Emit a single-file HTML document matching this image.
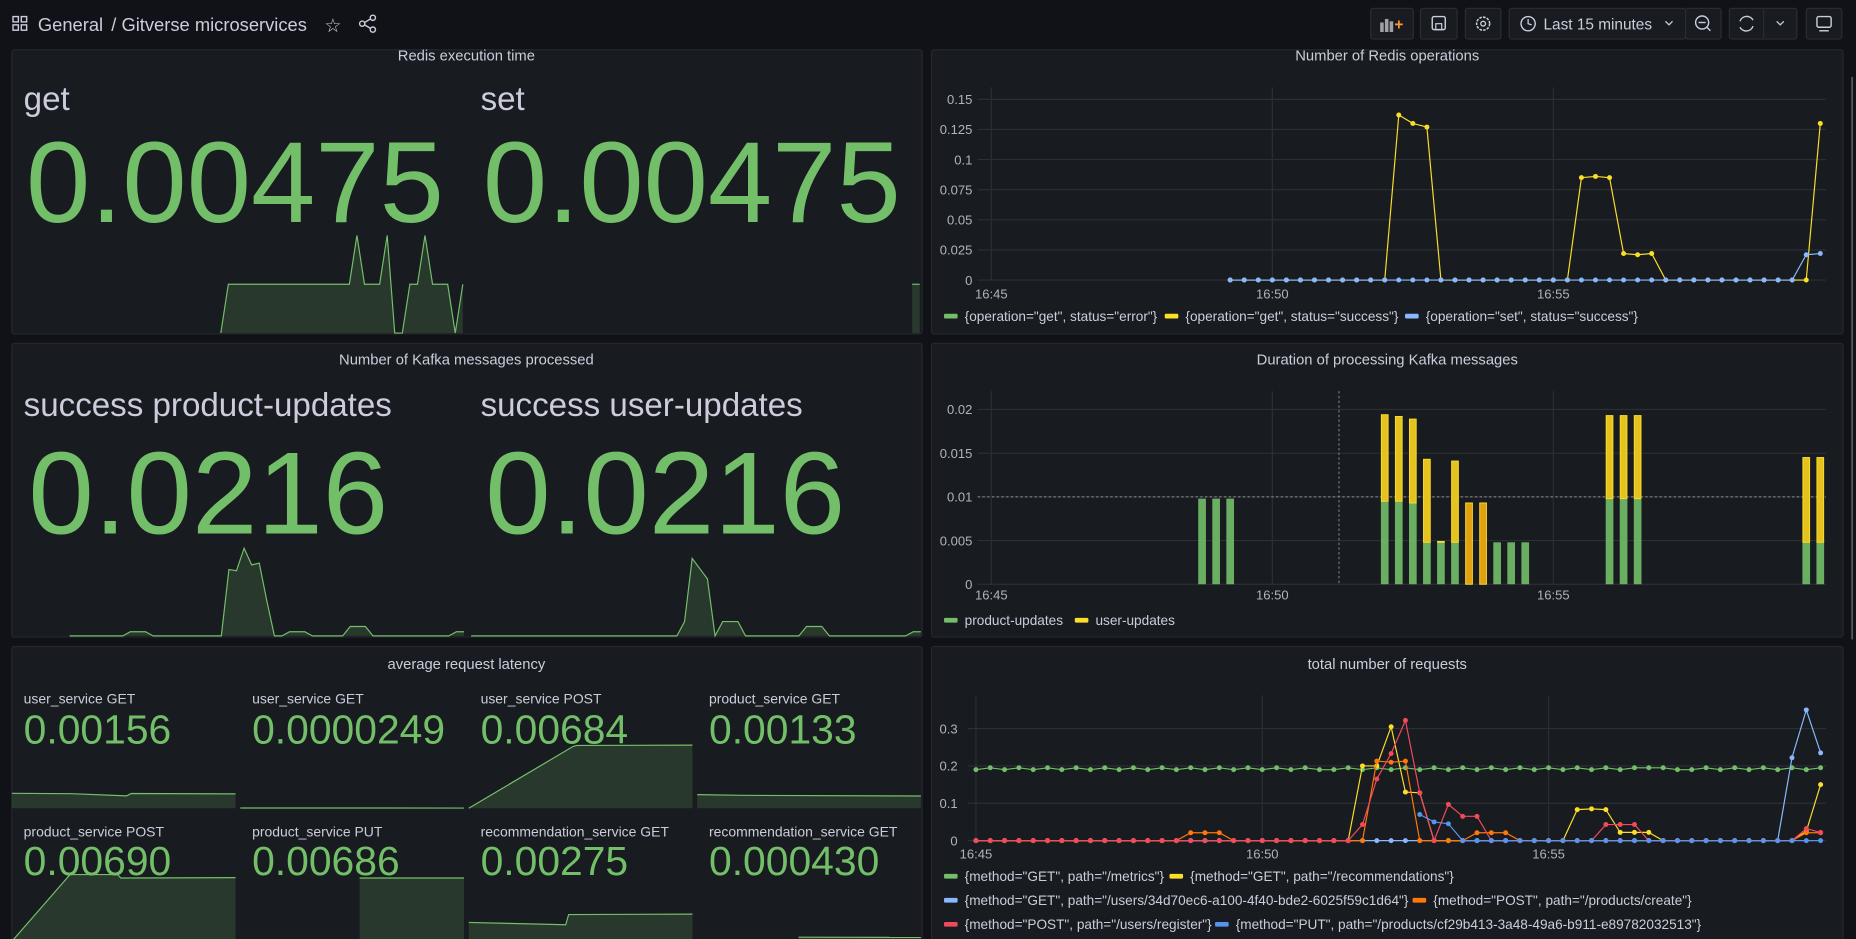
<!DOCTYPE html>
<html><head><meta charset="utf-8"><title>Gitverse microservices</title>
<style>
html,body{margin:0;padding:0;background:#111217;overflow:hidden;}
svg{display:block;font-family:"Liberation Sans",sans-serif;}
.t{fill:#ccccdc;}
.tick{fill:#ccccdc;font-size:11px;opacity:.85}
.ptitle{fill:#ccccdc;font-size:12.5px;text-anchor:middle}
.big{fill:#73bf69}
.leg{fill:#ccccdc;font-size:11.5px}
</style></head>
<body>
<svg id="root" width="1856" height="939" viewBox="0 0 1568 793" preserveAspectRatio="none">
<rect x="0" y="0" width="1568" height="793" fill="#111217"/>
<!-- top bar -->
<g>
  <g fill="none" stroke="#ccccdc" stroke-width="1.2">
    <rect x="11" y="14" width="4.5" height="4.5"/><rect x="18" y="14" width="4.5" height="4.5"/>
    <rect x="11" y="21" width="4.5" height="4.5"/><rect x="18" y="21" width="4.5" height="4.5"/>
  </g>
  <text x="32" y="26" class="t" font-size="15.5">General</text>
  <text x="94" y="26" class="t" font-size="15.5">/ Gitverse microservices</text>
  <text x="274" y="27" class="t" font-size="16">☆</text>
  <g fill="none" stroke="#ccccdc" stroke-width="1.2">
    <circle cx="315" cy="15" r="2.2"/><circle cx="306" cy="20" r="2.2"/><circle cx="315" cy="25" r="2.2"/>
    <line x1="308" y1="19" x2="313" y2="16"/><line x1="308" y1="21" x2="313" y2="24"/>
  </g>
  <g>
    <rect x="1158" y="7" width="36" height="26" rx="2" fill="#181b1f" stroke="#2a2d33"/>
    <rect x="1166" y="19" width="3" height="8" fill="#9fa0a8"/><rect x="1170" y="16" width="3" height="11" fill="#9fa0a8"/><rect x="1174" y="18" width="3" height="9" fill="#9fa0a8"/>
    <text x="1178" y="25" fill="#ff9830" font-size="13" font-weight="bold">+</text>
  </g>
  <g>
    <rect x="1200" y="7" width="31" height="26" rx="2" fill="#181b1f" stroke="#2a2d33"/>
    <rect x="1210" y="14" width="11" height="11" rx="1.5" fill="none" stroke="#ccccdc" stroke-width="1.2"/>
    <rect x="1213" y="20" width="5" height="5" fill="none" stroke="#ccccdc" stroke-width="1"/>
  </g>
  <g>
    <rect x="1238" y="7" width="30" height="26" rx="2" fill="#181b1f" stroke="#2a2d33"/>
    <circle cx="1253" cy="20" r="5.5" fill="none" stroke="#ccccdc" stroke-width="1.3" stroke-dasharray="2.2 1"/>
    <circle cx="1253" cy="20" r="2" fill="none" stroke="#ccccdc" stroke-width="1.1"/>
  </g>
  <g>
    <rect x="1275" y="7" width="149" height="26" rx="2" fill="#181b1f" stroke="#2a2d33"/>
    <circle cx="1291" cy="20" r="6" fill="none" stroke="#ccccdc" stroke-width="1.2"/>
    <polyline points="1291,16 1291,20 1294,21" fill="none" stroke="#ccccdc" stroke-width="1.1"/>
    <text x="1304" y="25" class="t" font-size="13">Last 15 minutes</text>
    <polyline points="1407,18 1410,21 1413,18" fill="none" stroke="#ccccdc" stroke-width="1.1"/>
  </g>
  <g>
    <rect x="1424" y="7" width="30" height="26" rx="2" fill="#181b1f" stroke="#2a2d33"/>
    <circle cx="1438" cy="19" r="5.5" fill="none" stroke="#ccccdc" stroke-width="1.2"/>
    <line x1="1435" y1="19" x2="1441" y2="19" stroke="#ccccdc" stroke-width="1.2"/>
    <line x1="1442" y1="23" x2="1445" y2="26" stroke="#ccccdc" stroke-width="1.2"/>
  </g>
  <g>
    <rect x="1461" y="7" width="57" height="26" rx="2" fill="#181b1f" stroke="#2a2d33"/>
    <line x1="1490" y1="8" x2="1490" y2="32" stroke="#2a2d33"/>
    <path d="M1470 18 A6 6 0 0 1 1481 17 M1481 22 A6 6 0 0 1 1470 23" fill="none" stroke="#ccccdc" stroke-width="1.2"/>
    <polyline points="1501,18 1504,21 1507,18" fill="none" stroke="#ccccdc" stroke-width="1.1"/>
  </g>
  <g>
    <rect x="1526" y="7" width="30" height="26" rx="2" fill="#181b1f" stroke="#2a2d33"/>
    <rect x="1535" y="14" width="12" height="9" rx="1.5" fill="none" stroke="#ccccdc" stroke-width="1.2"/>
    <line x1="1537" y1="26" x2="1545" y2="26" stroke="#ccccdc" stroke-width="1.2"/>
  </g>
</g>
<rect x="1564" y="65" width="1.5" height="475" fill="#55575e"/>

<!-- panels -->
<g>
  <rect x="10" y="42" width="769" height="240" rx="2" fill="#181b1f" stroke="#25272d"/>
  <text x="394" y="51" class="ptitle">Redis execution time</text>
  <text x="20" y="93" class="t" font-size="28">get</text>
  <text x="406" y="93" class="t" font-size="28">set</text>
  <text x="22" y="187.5" class="big" font-size="97" textLength="353" lengthAdjust="spacingAndGlyphs">0.00475</text>
  <text x="408" y="187.5" class="big" font-size="97" textLength="353" lengthAdjust="spacingAndGlyphs">0.00475</text>
  <g id="sparkRedis"></g>
</g>
<g>
  <rect x="10" y="290" width="769" height="248" rx="2" fill="#181b1f" stroke="#25272d"/>
  <text x="394" y="308" class="ptitle">Number of Kafka messages processed</text>
  <text x="20" y="351.5" class="t" font-size="28">success product-updates</text>
  <text x="406" y="351.5" class="t" font-size="28">success user-updates</text>
  <text x="24" y="450.5" class="big" font-size="99" textLength="304" lengthAdjust="spacingAndGlyphs">0.0216</text>
  <text x="410" y="450.5" class="big" font-size="99" textLength="304" lengthAdjust="spacingAndGlyphs">0.0216</text>
  <g id="sparkKafka"></g>
</g>
<g>
  <rect x="10" y="546" width="769" height="260" rx="2" fill="#181b1f" stroke="#25272d"/>
  <text x="394" y="565" class="ptitle">average request latency</text>
  <g id="latency"></g>
</g>
<g>
  <rect x="787" y="42" width="770" height="240" rx="2" fill="#181b1f" stroke="#25272d"/>
  <text x="1172" y="51" class="ptitle">Number of Redis operations</text>
  <g id="redisChart"></g>
</g>
<g>
  <rect x="787" y="290" width="770" height="248" rx="2" fill="#181b1f" stroke="#25272d"/>
  <text x="1172" y="308" class="ptitle">Duration of processing Kafka messages</text>
  <g id="kafkaChart"></g>
</g>
<g>
  <rect x="787" y="546" width="770" height="260" rx="2" fill="#181b1f" stroke="#25272d"/>
  <text x="1172" y="565" class="ptitle">total number of requests</text>
  <g id="reqChart"></g>
</g>
</svg>
<script>
const NS='http://www.w3.org/2000/svg';
function mk(parent,tag,attrs){const e=document.createElementNS(NS,tag);for(const k in attrs)e.setAttribute(k,attrs[k]);parent.appendChild(e);return e;}
const GREEN='#73bf69',YELLOW='#fade2a',LBLUE='#8ab8ff',ORANGE='#ff780a',RED='#f2495c',BLUE='#5794f2';

/* ---------- shared time axis ---------- */
const timeTickLabels=['16:45','16:50','16:55'];
const timeTickMinutes=[0,5,10];

/* ---------- Redis operations data (15s step from 16:49:15) ---------- */
const redisStartMin=4.25, redisStepMin=0.25;
const redisGetError=[];
const redisGetSuccess=[0,0,0,0,0,0,0,0,0,0,0,0,0.137,0.13,0.127,0,0,0,0,0,0,0,0,0,0,0.085,0.086,0.085,0.022,0.021,0.022,0,0,0,0,0,0,0,0,0,0,0,0.13];
const redisSetSuccess=[0,0,0,0,0,0,0,0,0,0,0,0,0,0,0,0,0,0,0,0,0,0,0,0,0,0,0,0,0,0,0,0,0,0,0,0,0,0,0,0,0,0.021,0.022];
const redisYTicks=[0,0.025,0.05,0.075,0.1,0.125,0.15];
const redisYLabels=['0','0.025','0.05','0.075','0.1','0.125','0.15'];

/* ---------- Kafka duration data ---------- */
const kafkaTimes=[3.75,4,4.25,7,7.25,7.5,7.75,8,8.25,8.5,8.75,9,9.25,9.5,11,11.25,11.5,14.5,14.75];
const kafkaProduct=[0.0098,0.0098,0.0098,0.0095,0.0095,0.0093,0.0048,0.0048,0.0048,0,0,0.0048,0.0048,0.0048,0.0098,0.0098,0.0098,0.0048,0.0048];
const kafkaUser=[0,0,0,0.0099,0.0097,0.0096,0.0095,0.0001,0.0093,0.0093,0.0093,0,0,0,0.0095,0.0095,0.0095,0.0097,0.0097];
const kafkaYTicks=[0,0.005,0.01,0.015,0.02];
const kafkaYLabels=['0','0.005','0.01','0.015','0.02'];

/* ---------- total requests data (15s step from 16:45) ---------- */
const reqStepMin=0.25;
const reqMetrics=[0.19,0.195,0.19,0.195,0.19,0.195,0.19,0.195,0.19,0.195,0.19,0.195,0.19,0.195,0.19,0.195,0.19,0.195,0.19,0.195,0.19,0.195,0.19,0.195,0.19,0.19,0.195,0.19,0.195,0.19,0.195,0.19,0.195,0.19,0.195,0.19,0.195,0.19,0.195,0.19,0.195,0.19,0.195,0.19,0.195,0.19,0.195,0.195,0.195,0.19,0.19,0.195,0.19,0.195,0.19,0.195,0.19,0.195,0.19,0.195];
const reqRecommendations=[0,0,0,0,0,0,0,0,0,0,0,0,0,0,0,0,0,0,0,0,0,0,0,0,0,0,0,0.2,0.2,0.305,0.13,0.128,0,0,0,0,0,0,0,0,0,0,0.083,0.085,0.083,0.022,0.022,0.022,0,0,0,0,0,0,0,0,0,0,0.025,0.15];
const reqUsersGet=[0,0,0,0,0,0,0,0,0,0,0,0,0,0,0,0,0,0,0,0,0,0,0,0,0,0,0,0,0,0,0,0,0,0,0,0,0,0,0,0,0,0,0,0,0,0,0,0,0,0,0,0,0,0,0,0,0,0.222,0.35,0.235];
const reqProductsCreate=[0,0,0,0,0,0,0,0,0,0,0,0,0,0,0,0.021,0.021,0.021,0,0,0,0,0,0,0,0,0,0,0.213,0.21,0.213,0,0,0,0,0.021,0.021,0.021,0,0,0,0,0,0,0,0,0,0,0,0,0,0,0,0,0,0,0,0,0.021,0.021];
const reqUsersRegister=[0,0,0,0,0,0,0,0,0,0,0,0,0,0,0,0,0,0,0,0,0,0,0,0,0,0,0,0.043,0.165,0.233,0.322,0.128,0,0.097,0.065,0.065,0,0,0,0,0,0,0,0,0.043,0.043,0.043,0,0,0,0,0,0,0,0,0,0,0,0.032,0.022];
const reqProductsPut=[null,null,null,null,null,null,null,null,null,null,null,null,null,null,null,null,null,null,null,null,null,null,null,null,null,null,null,null,null,null,null,0.07,0.05,0.045,0,0,0,0,0,0,0,0,0,0,0,0,0,0,0,0,0,0,0,0,0,0,0,0,0,0];
const reqYTicks=[0,0.1,0.2,0.3];
const reqYLabels=['0','0.1','0.2','0.3'];

/* ---------- stat sparklines (60 points, 15s step) ---------- */
const sparkRedisGet=[null,null,null,null,null,null,null,null,null,null,null,null,null,null,null,null,null,null,null,null,null,null,null,null,null,null,null,0,0.00475,0.00475,0.00475,0.00475,0.00475,0.00475,0.00475,0.00475,0.00475,0.00475,0.00475,0.00475,0.00475,0.00475,0.00475,0.00475,0.00475,0.0095,0.00475,0.00475,0.00475,0.0095,0,0,0.00475,0.00475,0.0095,0.00475,0.00475,0.00475,0,0.00475];
const sparkRedisSet=[null,null,null,null,null,null,null,null,null,null,null,null,null,null,null,null,null,null,null,null,null,null,null,null,null,null,null,null,null,null,null,null,null,null,null,null,null,null,null,null,null,null,null,null,null,null,null,null,null,null,null,null,null,null,null,null,null,null,0.00475,0.00475];
const sparkKafkaProduct=[null,null,null,null,null,null,null,0,0,0,0,0,0,0,0,0.0014,0.0014,0.0014,0,0,0,0,0,0,0,0,0,0,0.0227,0.0223,0.03,0.0243,0.0249,0.012,0,0,0.0014,0.0014,0.0014,0,0,0,0,0,0.0032,0.0032,0.0032,0,0,0,0,0,0,0,0,0,0,0,0.0014,0.0014];
const sparkKafkaUser=[0,0,0,0,0,0,0,0,0,0,0,0,0,0,0,0,0,0,0,0,0,0,0,0,0,0,0,0,0.0049,0.0265,0.023,0.0195,0,0.0049,0.0049,0.0049,0,0,0,0,0,0,0,0,0.0032,0.0032,0.0032,0,0,0,0,0,0,0,0,0,0,0,0.0014,0.0014];

/* ---------- latency stats ---------- */
const latLabels=['user_service GET','user_service GET','user_service POST','product_service GET','product_service POST','product_service PUT','recommendation_service GET','recommendation_service GET'];
const latValues=['0.00156','0.0000249','0.00684','0.00133','0.00690','0.00686','0.00275','0.000430'];
const latSparkTimes=[[0,4,7.7,8,15],[0,15],[0,7,7.25,15],[0,3,15],[0,3.9,7.1,7.3,15],[8,15],[0,6.5,6.7,15],[6.8,15]];
const latSparkValues=[[0.00162,0.00158,0.00134,0.0016,0.00156],[0.00003,0.0000249],[0,0.0067,0.0068,0.00684],[0.00148,0.0014,0.00133],[0,0.00723,0.00723,0.00686,0.0069],[0.00686,0.00686],[0.00205,0.0018,0.0029,0.00295],[0.00045,0.00043]];

/* ---------- helpers ---------- */
function sparkIdx(g,vals,x0,x1,base,scale,name){
  const step=(x1-x0)/(vals.length-1);let pts=[];
  vals.forEach((v,i)=>{if(v!==null)pts.push([x0+i*step,base-v*scale]);});
  if(!pts.length)return;
  const area=mk(g,'polygon',{points:[[pts[0][0],base]].concat(pts,[[pts[pts.length-1][0],base]]).map(p=>p.join(',')).join(' '),fill:'rgba(115,191,105,0.18)'});
  
  
  const ln=mk(g,'polyline',{points:pts.map(p=>p.join(',')).join(' '),fill:'none',stroke:GREEN,'stroke-width':1});
  
  
}
function sparkTime(g,times,vals,x0,w,base,scale,name){
  const pts=times.map((t,i)=>[x0+t/15*w,base-vals[i]*scale]);
  const area=mk(g,'polygon',{points:[[pts[0][0],base]].concat(pts,[[pts[pts.length-1][0],base]]).map(p=>p.join(',')).join(' '),fill:'rgba(115,191,105,0.18)'});
  
  
  const ln=mk(g,'polyline',{points:pts.map(p=>p.join(',')).join(' '),fill:'none',stroke:GREEN,'stroke-width':1});
  
  
}
function axes(g,xf,yf,yTicks,yLabels,gx0,gx1,gTop,labX,timeY){
  yTicks.forEach((v,i)=>{
    const l=mk(g,'line',{x1:gx0,x2:gx1,y1:yf(v),y2:yf(v),stroke:'#2c2f35','stroke-width':1});
    
    
    const t=mk(g,'text',{x:labX,y:yf(v)+4,'text-anchor':'end',class:'tick'});t.textContent=yLabels[i];
    
    
  });
  timeTickMinutes.forEach((m,i)=>{
    const l=mk(g,'line',{x1:xf(m),x2:xf(m),y1:gTop,y2:yf(0),stroke:'#2c2f35','stroke-width':1});
    
    
    const t=mk(g,'text',{x:xf(m),y:timeY,'text-anchor':'middle',class:'tick'});t.textContent=timeTickLabels[i];
    
    
  });
}
function series(g,vals,t0,step,xf,yf,color,name){
  let d='',pen=false;
  vals.forEach((v,i)=>{if(v===null){pen=false;return;}d+=(pen?'L':'M')+xf(t0+i*step)+' '+yf(v);pen=true;});
  const p=mk(g,'path',{d:d,fill:'none',stroke:color,'stroke-width':1});
  
  
  vals.forEach((v,i)=>{if(v===null)return;
    const c=mk(g,'circle',{cx:xf(t0+i*step),cy:yf(v),r:2.1,fill:color});
    
    
  });
}
function legend(g,x,y,color,label,name){
  const r=mk(g,'rect',{x:x,y:y-2,width:11.5,height:4,rx:1,fill:color});
  
  
  const t=mk(g,'text',{x:x+17.5,y:y+4,class:'leg'});t.textContent=label;
  
  
}

/* ---------- stat sparklines ---------- */
(function(){
  const g=document.getElementById('sparkRedis');
  sparkIdx(g,sparkRedisGet,14,391,281.3,8684,'sparkline-redis-get');
  sparkIdx(g,sparkRedisSet,400,777,281.3,8684,'sparkline-redis-set');
  const k=document.getElementById('sparkKafka');
  sparkIdx(k,sparkKafkaProduct,14,392,537,2467,'sparkline-product-updates');
  sparkIdx(k,sparkKafkaUser,398,778,537,2467,'sparkline-user-updates');
})();

/* ---------- latency grid ---------- */
(function(){
  const g=document.getElementById('latency');
  const colX=[10,203,396,589];
  latLabels.forEach((lab,i)=>{
    const c=i%4,r=Math.floor(i/4),x=colX[c];
    const base=r===0?682.6:795;
    sparkTime(g,latSparkTimes[i],latSparkValues[i],x,189,base,7800,'latency-sparkline-'+(i+1));
  });
  latLabels.forEach((lab,i)=>{
    const c=i%4,r=Math.floor(i/4),x=colX[c]+10;
    const t=mk(g,'text',{x:x,y:r===0?594:706.5,class:'t','font-size':11.8});t.textContent=lab;
    
    
    const v=mk(g,'text',{x:x,y:r===0?628:739,class:'big','font-size':34.5});v.textContent=latValues[i];
    
    
  });
})();

/* ---------- Redis operations chart ---------- */
(function(){
  const g=document.getElementById('redisChart');
  const xf=m=>837.5+m*47.48, yf=v=>236.5-v*(236.5-83.9)/0.15;
  axes(g,xf,yf,redisYTicks,redisYLabels,826,1542.6,73.7,821.5,252);
  series(g,redisGetError,redisStartMin,redisStepMin,xf,yf,GREEN,'series-get-error');
  series(g,redisGetSuccess,redisStartMin,redisStepMin,xf,yf,YELLOW,'series-get-success');
  series(g,redisSetSuccess,redisStartMin,redisStepMin,xf,yf,LBLUE,'series-set-success');
  legend(g,797.5,267,GREEN,'{operation="get", status="error"}','legend-get-error');
  legend(g,984,267,YELLOW,'{operation="get", status="success"}','legend-get-success');
  legend(g,1187,267,LBLUE,'{operation="set", status="success"}','legend-set-success');
})();

/* ---------- Kafka duration chart ---------- */
(function(){
  const g=document.getElementById('kafkaChart');
  const xf=m=>837.5+m*47.48, yf=v=>493.4-v*7380;
  axes(g,xf,yf,kafkaYTicks,kafkaYLabels,826,1542.6,330.3,821.5,506.3);
  const dv=mk(g,'line',{x1:1131.2,x2:1131.2,y1:330.3,y2:493.4,stroke:'#8e8e95','stroke-width':0.8,'stroke-dasharray':'2 2'});
  
  
  const dh=mk(g,'line',{x1:826,x2:1542.6,y1:yf(0.01),y2:yf(0.01),stroke:'#8e8e95','stroke-width':0.8,'stroke-dasharray':'2 2'});
  
  
  const bw=6.5;
  kafkaTimes.forEach((t,i)=>{
    const x=xf(t)-bw/2,p=kafkaProduct[i],u=kafkaUser[i];
    if(p>0){const b=mk(g,'rect',{x:x,y:yf(p),width:bw,height:yf(0)-yf(p),fill:GREEN,'fill-opacity':0.9});
      
      }
    if(u>0){const b=mk(g,'rect',{x:x+0.4,y:yf(p+u),width:bw-0.8,height:yf(p)-yf(p+u),fill:p>0?'#e6c21f':'#e0a010',stroke:YELLOW,'stroke-width':0.8});
      
      }
  });
  legend(g,797.5,523.8,GREEN,'product-updates','legend-product-updates');
  legend(g,908,523.8,YELLOW,'user-updates','legend-user-updates');
})();

/* ---------- total requests chart ---------- */
(function(){
  const g=document.getElementById('reqChart');
  const xf=m=>824.5+m*48.38, yf=v=>709.9-v*315.3;
  axes(g,xf,yf,reqYTicks,reqYLabels,817.4,1542.6,587.1,809,725);
  series(g,reqMetrics,0,reqStepMin,xf,yf,GREEN,'series-get-metrics');
  series(g,reqRecommendations,0,reqStepMin,xf,yf,YELLOW,'series-get-recommendations');
  series(g,reqUsersGet,0,reqStepMin,xf,yf,LBLUE,'series-get-user');
  series(g,reqProductsCreate,0,reqStepMin,xf,yf,ORANGE,'series-post-products-create');
  series(g,reqUsersRegister,0,reqStepMin,xf,yf,RED,'series-post-users-register');
  series(g,reqProductsPut,0,reqStepMin,xf,yf,BLUE,'series-put-product');
  legend(g,797.5,740,GREEN,'{method="GET", path="/metrics"}','legend-get-metrics');
  legend(g,988,740,YELLOW,'{method="GET", path="/recommendations"}','legend-get-recommendations');
  legend(g,797.5,760.3,LBLUE,'{method="GET", path="/users/34d70ec6-a100-4f40-bde2-6025f59c1d64"}','legend-get-user');
  legend(g,1193.4,760.3,ORANGE,'{method="POST", path="/products/create"}','legend-post-products-create');
  legend(g,797.5,780.6,RED,'{method="POST", path="/users/register"}','legend-post-users-register');
  legend(g,1026.5,780.6,BLUE,'{method="PUT", path="/products/cf29b413-3a48-49a6-b911-e89782032513"}','legend-put-product');
})();
</script>
</body></html>
